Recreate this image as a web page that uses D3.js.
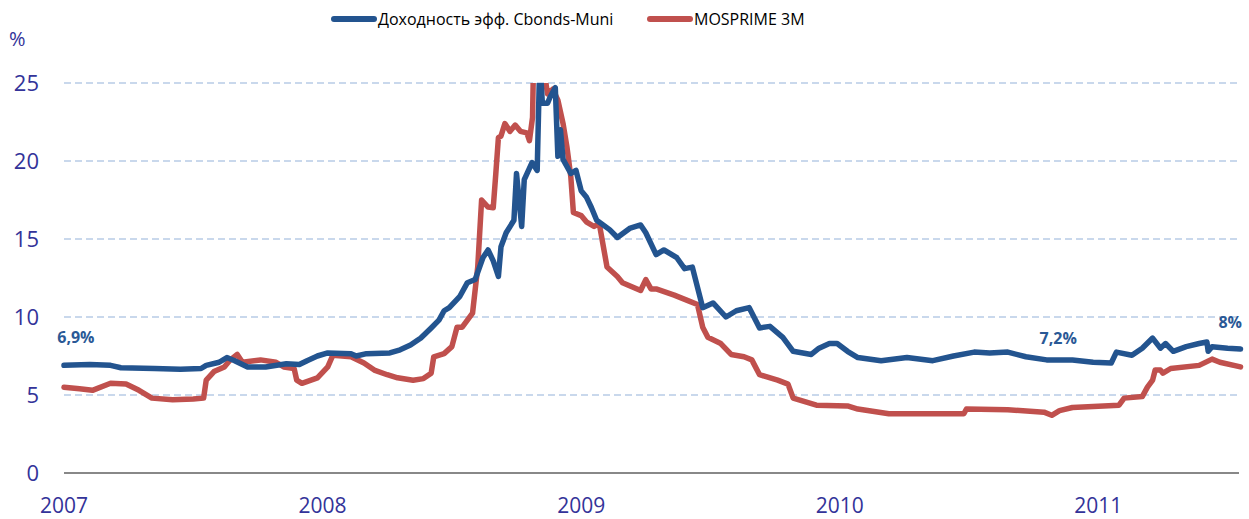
<!DOCTYPE html>
<html>
<head>
  <meta charset="utf-8">
  <script src="https://d3js.org/d3.v7.min.js"></script>
  <style>
    body { margin: 0; background: #fff; }
    text { font-family: "Open Sans", "DejaVu Sans", sans-serif; }
  </style>
</head>
<body>
<script type="text/javascript">
  // data (x = decimal year)
  var muniYears = [2007.00, 2007.10, 2007.18, 2007.22, 2007.35, 2007.45, 2007.53, 2007.55, 2007.60, 2007.63,
    2007.66, 2007.71, 2007.78, 2007.86, 2007.91, 2007.94, 2007.98, 2008.02, 2008.11, 2008.13,
    2008.17, 2008.26, 2008.30, 2008.34, 2008.38, 2008.42, 2008.45, 2008.47, 2008.49, 2008.53,
    2008.56, 2008.59, 2008.62, 2008.64, 2008.66, 2008.68, 2008.69, 2008.71, 2008.74, 2008.75,
    2008.77, 2008.78, 2008.81, 2008.83, 2008.84, 2008.85, 2008.87, 2008.88, 2008.90, 2008.91,
    2008.92, 2008.93, 2008.96, 2008.98, 2009.00, 2009.02, 2009.04, 2009.06, 2009.11, 2009.14,
    2009.19, 2009.23, 2009.25, 2009.29, 2009.32, 2009.37, 2009.40, 2009.43, 2009.45, 2009.47,
    2009.51, 2009.56, 2009.60, 2009.65, 2009.69, 2009.73, 2009.78, 2009.82, 2009.89, 2009.92,
    2009.96, 2009.99, 2010.03, 2010.07, 2010.16, 2010.26, 2010.36, 2010.44, 2010.52, 2010.58,
    2010.65, 2010.72, 2010.80, 2010.90, 2010.98, 2011.05, 2011.07, 2011.13, 2011.17, 2011.21,
    2011.24, 2011.26, 2011.29, 2011.34, 2011.39, 2011.42, 2011.425, 2011.44, 2011.50, 2011.55];
  var muniValues = [6.9, 6.95, 6.9, 6.75, 6.7, 6.65, 6.7, 6.9, 7.1, 7.4,
    7.2, 6.8, 6.8, 7.0, 6.95, 7.2, 7.5, 7.7, 7.65, 7.5,
    7.65, 7.7, 7.9, 8.2, 8.65, 9.3, 9.8, 10.4, 10.6, 11.3,
    12.2, 12.4, 13.8, 14.3, 13.6, 12.6, 14.5, 15.4, 16.2, 19.2,
    15.8, 18.8, 19.9, 19.4, 26.5, 23.7, 23.7, 24.1, 24.7, 20.3,
    22.0, 20.1, 19.2, 19.4, 18.1, 17.7, 17.0, 16.2, 15.6, 15.1,
    15.7, 15.9, 15.4, 14.0, 14.3, 13.8, 13.1, 13.2, 11.9, 10.6,
    10.9, 10.0, 10.4, 10.6, 9.3, 9.4, 8.7, 7.8, 7.6, 8.0,
    8.3, 8.3, 7.8, 7.4, 7.2, 7.4, 7.2, 7.5, 7.75, 7.7,
    7.75, 7.45, 7.25, 7.25, 7.1, 7.05, 7.75, 7.55, 8.0, 8.65,
    8.0, 8.3, 7.8, 8.1, 8.3, 8.4, 7.8, 8.1, 8.0, 7.95];

  var mosYears = [2007.00, 2007.06, 2007.11, 2007.18, 2007.24, 2007.29, 2007.34, 2007.42, 2007.50, 2007.54,
    2007.55, 2007.58, 2007.62, 2007.64, 2007.67, 2007.69, 2007.76, 2007.82, 2007.85, 2007.89,
    2007.90, 2007.92, 2007.98, 2008.02, 2008.04, 2008.11, 2008.16, 2008.20, 2008.25, 2008.29,
    2008.35, 2008.39, 2008.42, 2008.43, 2008.47, 2008.50, 2008.52, 2008.54, 2008.56, 2008.58,
    2008.60, 2008.615, 2008.64, 2008.66, 2008.67, 2008.68, 2008.69, 2008.705, 2008.725, 2008.745,
    2008.765, 2008.79, 2008.80, 2008.812, 2008.816, 2008.85, 2008.87, 2008.89, 2008.91, 2008.93,
    2008.945, 2008.96, 2008.97, 2009.00, 2009.02, 2009.05, 2009.07, 2009.10, 2009.14, 2009.16,
    2009.23, 2009.25, 2009.27, 2009.29, 2009.36, 2009.42, 2009.45, 2009.47, 2009.49, 2009.54,
    2009.58, 2009.63, 2009.66, 2009.69, 2009.76, 2009.80, 2009.82, 2009.91, 2010.03, 2010.07,
    2010.19, 2010.48, 2010.49, 2010.65, 2010.79, 2010.82, 2010.85, 2010.90, 2011.08, 2011.10,
    2011.17, 2011.19, 2011.21, 2011.22, 2011.24, 2011.25, 2011.28, 2011.39, 2011.44, 2011.47,
    2011.55];
  var mosValues = [5.5, 5.4, 5.3, 5.75, 5.7, 5.3, 4.8, 4.7, 4.75, 4.8,
    5.95, 6.5, 6.8, 7.2, 7.6, 7.1, 7.25, 7.1, 6.8, 6.7,
    5.95, 5.75, 6.1, 6.8, 7.55, 7.45, 7.05, 6.6, 6.3, 6.1,
    5.95, 6.05, 6.4, 7.45, 7.65, 8.1, 9.35, 9.35, 9.8, 10.25,
    13.2, 17.5, 17.05, 17.0, 19.2, 21.5, 21.6, 22.4, 21.9, 22.3,
    21.9, 21.8, 21.3, 22.8, 26.5, 26.5, 24.3, 24.6, 23.9, 22.4,
    20.9, 19.0, 16.7, 16.5, 16.1, 15.8, 16.0, 13.2, 12.6, 12.2,
    11.7, 12.4, 11.8, 11.8, 11.4, 11.0, 10.8, 9.35, 8.7, 8.3,
    7.6, 7.45, 7.25, 6.3, 5.95, 5.7, 4.8, 4.35, 4.3, 4.1,
    3.8, 3.8, 4.1, 4.05, 3.9, 3.7, 4.0, 4.2, 4.35, 4.8,
    4.9, 5.5, 5.95, 6.6, 6.6, 6.4, 6.7, 6.9, 7.3, 7.1,
    6.8];

  var seriesNames = ["Доходность эфф. Cbonds-Muni", "MOSPRIME 3M"];
  var seriesColors = ["#23548f", "#c0504d"];
  var yTicks = [0, 5, 10, 15, 20, 25];
  var xTicks = [2007, 2008, 2009, 2010, 2011];
  var notes = [
    {year: 2007.046, value: 6.9, label: "6,9%", dy: -22},
    {year: 2010.845, value: 7.2, label: "7,2%", dy: -17},
    {year: 2011.51, value: 8.0, label: "8%", dy: -20}
  ];

  var width = 1249, height = 519;
  var plotLeft = 64, plotRight = 1240, plotTop = 83, plotBottom = 473;

  var x = d3.scaleLinear().domain([2007, 2011.548]).range([plotLeft, plotRight]);
  var y = d3.scaleLinear().domain([0, 25]).range([plotBottom, plotTop]);

  var svg = d3.select("body").append("svg")
      .attr("width", width)
      .attr("height", height);

  svg.append("defs").append("clipPath")
      .attr("id", "plot")
    .append("rect")
      .attr("x", 0).attr("y", plotTop)
      .attr("width", width).attr("height", plotBottom - plotTop + 10);

  // gridlines
  svg.selectAll("line.grid")
      .data(yTicks.filter(function(d) { return d > 0; }))
    .enter().append("line")
      .attr("class", "grid")
      .attr("x1", plotLeft).attr("x2", 1239)
      .attr("y1", function(d) { return y(d); })
      .attr("y2", function(d) { return y(d); })
      .style("stroke", "#c9d8ec")
      .style("stroke-width", 2)
      .style("stroke-dasharray", "7,4");

  // x axis line
  svg.append("line")
      .attr("x1", plotLeft).attr("x2", 1239)
      .attr("y1", y(0)).attr("y2", y(0))
      .style("stroke", "#888")
      .style("stroke-width", 2);

  // y labels
  svg.selectAll("text.ylab")
      .data(yTicks)
    .enter().append("text")
      .attr("class", "ylab")
      .attr("x", 39)
      .attr("y", function(d) { return y(d); })
      .attr("dy", "0.35em")
      .style("text-anchor", "end")
      .style("font-size", "22px")
      .style("fill", "#333399")
      .text(function(d) { return d; });

  svg.append("text")
      .attr("x", 9).attr("y", 46)
      .style("font-size", "20px")
      .style("fill", "#333399")
      .text("%");

  // x labels
  svg.selectAll("text.xlab")
      .data(xTicks)
    .enter().append("text")
      .attr("class", "xlab")
      .attr("x", function(d) { return x(d); })
      .attr("y", 513)
      .style("text-anchor", "middle")
      .style("font-size", "21px")
      .style("fill", "#333399")
      .text(function(d) { return d; });

  var line = d3.line()
      .x(function(d) { return x(d[0]); })
      .y(function(d) { return y(d[1]); });

  var series = [d3.zip(muniYears, muniValues), d3.zip(mosYears, mosValues)];

  // red under blue, as in the original
  [1, 0].forEach(function(i) {
    svg.append("path")
        .datum(series[i])
        .attr("clip-path", "url(#plot)")
        .attr("d", line)
        .style("fill", "none")
        .style("stroke", seriesColors[i])
        .style("stroke-width", 5.5)
        .style("stroke-linejoin", "round")
        .style("stroke-linecap", "round");
  });

  // value notes
  svg.selectAll("text.note")
      .data(notes)
    .enter().append("text")
      .attr("class", "note")
      .attr("x", function(d) { return x(d.year); })
      .attr("y", function(d) { return y(d.value) + d.dy; })
      .style("text-anchor", "middle")
      .style("font-size", "16px")
      .style("font-weight", "bold")
      .style("fill", "#2a5996")
      .text(function(d) { return d.label; });

  // legend
  var legendX = [332, 648];
  seriesNames.forEach(function(name, i) {
    var g = svg.append("g").attr("transform", "translate(" + legendX[i] + ",19)");
    g.append("line")
        .attr("x1", 2).attr("x2", 42)
        .style("stroke", seriesColors[i])
        .style("stroke-width", 6)
        .style("stroke-linecap", "round");
    g.append("text")
        .attr("x", 46).attr("y", 6)
        .style("font-size", "16px")
        .style("fill", "#000")
        .text(name);
  });
</script>
</body>
</html>
